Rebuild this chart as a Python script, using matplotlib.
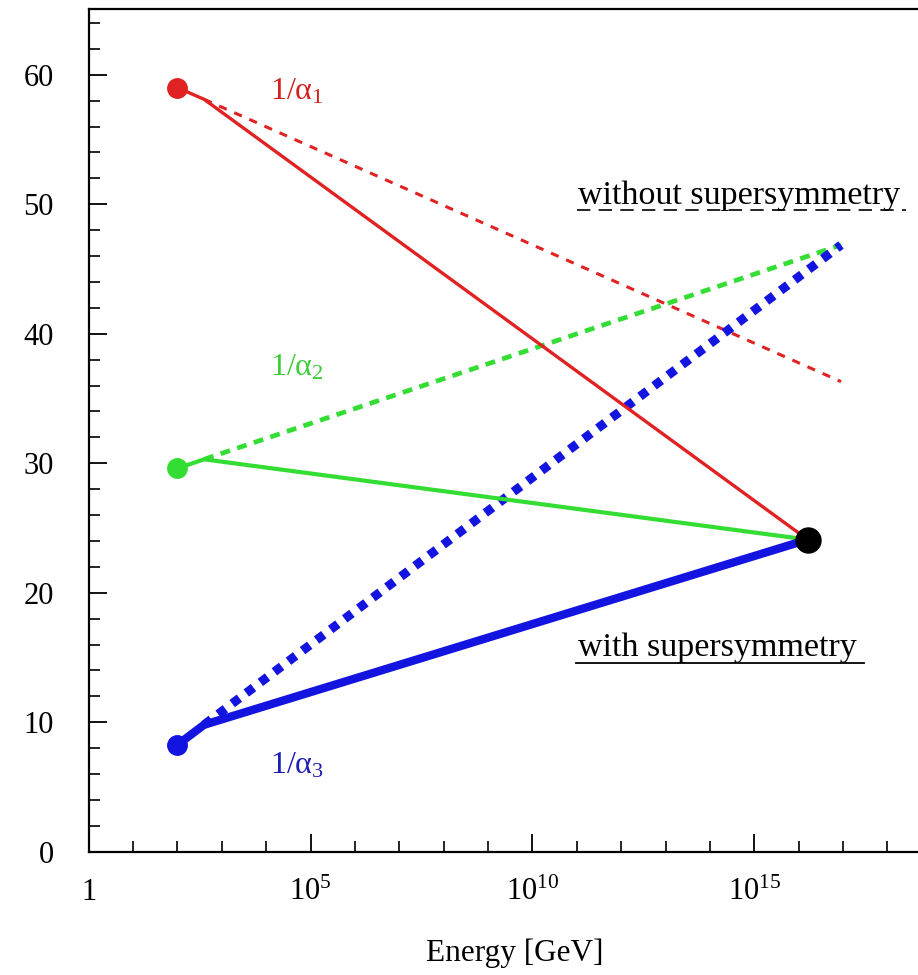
import matplotlib
matplotlib.use("Agg")
import matplotlib.pyplot as plt
from matplotlib.lines import Line2D
from matplotlib.ticker import FixedLocator, NullFormatter, LogLocator, MultipleLocator
from matplotlib.transforms import blended_transform_factory

plt.rcParams['font.family'] = ['Liberation Serif', 'DejaVu Serif']
plt.rcParams['mathtext.fontset'] = 'custom'
plt.rcParams['mathtext.rm'] = 'Liberation Serif'
plt.rcParams['mathtext.it'] = 'Liberation Serif:italic'
plt.rcParams['mathtext.bf'] = 'Liberation Serif:bold'

# ---------------- data ----------------
coupling_labels = [r"$\mathrm{1/\alpha_1}$", r"$\mathrm{1/\alpha_2}$", r"$\mathrm{1/\alpha_3}$"]
energy_mz = 1.0e2          # GeV, starting point (measured couplings)
energy_susy = 4.0e2        # GeV, SUSY threshold (kink of solid lines)
energy_gut = 1.6e16        # GeV, unification point
energy_sm_end = 9.0e16     # GeV, end of SM (dashed) running
inv_alpha_mz = [59.0, 29.6, 8.25]
inv_alpha_susy = [58.1, 30.3, 9.8]
inv_alpha_gut = 24.1
inv_alpha_sm_end = [36.3, 46.85, 46.85]

x_ticks = [1, 1e5, 1e10, 1e15]
x_tick_labels = ["1", r"$10^{5}$", r"$10^{10}$", r"$10^{15}$"]
y_ticks = [0, 10, 20, 30, 40, 50, 60]

# ---------------- style ----------------
W, H = 918, 975
line_colors = ['#e02222', '#33dd33', '#1414e0']
text_colors = ['#d42020', '#3ccc3c', '#1c1cb8']
solid_lw = [2.4, 3.0, 6.0]
dash_lw = [2.2, 3.4, 6.5]
dash_styles = [(0, (2.7, 2.7)), (0, (2.1, 1.6)), (0, (1.0, 0.95))]

def fx(px):
    return px / W

def fy(py):
    return 1 - py / H

fig = plt.figure(figsize=(W / 100, H / 100), dpi=100)
x0, xend, y0, ytop = 88.6, 918.0, 851.7, 9.0
ax = fig.add_axes([fx(x0), fy(y0), fx(xend) - fx(x0), fy(ytop) - fy(y0)])
ax.set_xscale('log')
ax.set_xlim(1, 10 ** ((xend - x0) / 44.38))
ax.set_ylim(0, (y0 - ytop) / 12.95)

for i in range(3):
    # SM running (dashed, without supersymmetry)
    ax.plot([energy_susy, energy_sm_end], [inv_alpha_susy[i], inv_alpha_sm_end[i]],
            color=line_colors[i], lw=dash_lw[i], linestyle=dash_styles[i],
            dash_capstyle='butt', zorder=2 + i)
for i in range(3):
    # MSSM running (solid, with supersymmetry)
    ax.plot([energy_mz, energy_susy, energy_gut],
            [inv_alpha_mz[i], inv_alpha_susy[i], inv_alpha_gut],
            color=line_colors[i], lw=solid_lw[i], solid_capstyle='round',
            solid_joinstyle='round', zorder=5 + i)
    ax.plot([energy_mz], [inv_alpha_mz[i]], 'o', color=line_colors[i],
            ms=14, mec=line_colors[i], zorder=8 + i)
ax.plot([energy_gut], [inv_alpha_gut], 'o', color='black', ms=18, zorder=12)

# spines
for s in ['left', 'bottom', 'top']:
    ax.spines[s].set_linewidth(1.6)
ax.spines['right'].set_visible(False)

# ticks
ax.xaxis.set_major_locator(FixedLocator(x_ticks))
ax.xaxis.set_major_formatter(NullFormatter())
ax.xaxis.set_minor_locator(LogLocator(base=10, subs=(1.0,), numticks=40))
ax.xaxis.set_minor_formatter(NullFormatter())
ax.yaxis.set_major_locator(FixedLocator(y_ticks))
ax.yaxis.set_minor_locator(MultipleLocator(2))
ax.tick_params(axis='both', which='major', direction='in', length=13, width=1.3,
               top=False, right=False)
ax.tick_params(axis='both', which='minor', direction='in', length=8, width=1.2,
               top=False, right=False)
ax.tick_params(axis='y', which='major', labelsize=22, pad=25)

trans = blended_transform_factory(ax.transData, ax.transAxes)
yb = (y0 - 900) / (y0 - ytop)
for val, lab in zip(x_ticks, x_tick_labels):
    ax.text(val, yb, lab, transform=trans, ha='center', va='baseline', fontsize=22)

fig.text(fx(515), fy(961), "Energy [GeV]", ha='center', va='baseline', fontsize=22.5)

# coupling labels
label_pos = [(270, 100), (270, 376), (270, 773)]
for i in range(3):
    fig.text(fx(label_pos[i][0]), fy(label_pos[i][1]), coupling_labels[i],
             color=text_colors[i], ha='left', va='baseline', fontsize=23)

# annotations with underlines
fig.text(fx(578), fy(204), "without supersymmetry", ha='left', va='baseline', fontsize=24.5)
fig.add_artist(Line2D([fx(577), fx(906)], [fy(210), fy(210)], color='black', lw=1.2,
                      linestyle=(0, (8, 5)), transform=fig.transFigure))
fig.text(fx(578), fy(656), "with supersymmetry", ha='left', va='baseline', fontsize=24.5)
fig.add_artist(Line2D([fx(576), fx(864)], [fy(663), fy(663)], color='black', lw=1.3,
                      transform=fig.transFigure))

fig.savefig("out.png", dpi=100)
